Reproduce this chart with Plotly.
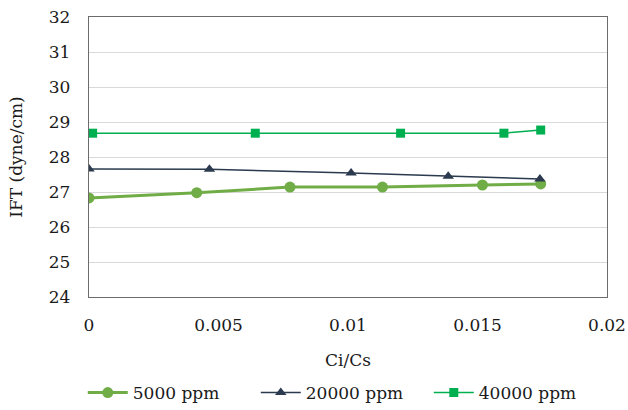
import plotly.graph_objects as go

# Interfacial tension vs. concentration ratio for three salinities
x_5000 = [0.0, 0.00416, 0.00776, 0.01133, 0.01519, 0.01744]
ift_5000 = [26.83, 26.98, 27.14, 27.14, 27.20, 27.23]

x_20000 = [0.0, 0.00465, 0.01012, 0.01387, 0.01741]
ift_20000 = [27.66, 27.65, 27.54, 27.45, 27.37]

x_40000 = [0.00014, 0.00642, 0.01203, 0.01602, 0.01744]
ift_40000 = [28.68, 28.68, 28.68, 28.68, 28.77]

x_ticks = [0, 0.005, 0.01, 0.015, 0.02]
x_ticklabels = ["0", "0.005", "0.01", "0.015", "0.02"]
y_ticks = [24, 25, 26, 27, 28, 29, 30, 31, 32]

FONT = "DejaVu Serif"

fig = go.Figure()
fig.add_trace(go.Scatter(
    x=x_5000, y=ift_5000, name="5000 ppm", mode="lines+markers",
    line=dict(color="#70AD47", width=3),
    marker=dict(symbol="circle", size=11, color="#70AD47"),
))
fig.add_trace(go.Scatter(
    x=x_20000, y=ift_20000, name="20000 ppm", mode="lines+markers",
    line=dict(color="#2B3A4E", width=1.5),
    marker=dict(symbol="triangle-up", size=10, color="#2B3A4E"),
))
fig.add_trace(go.Scatter(
    x=x_40000, y=ift_40000, name="40000 ppm", mode="lines+markers",
    line=dict(color="#00B050", width=1.5),
    marker=dict(symbol="square", size=9, color="#00B050"),
))

fig.update_layout(
    width=628, height=410,
    margin=dict(l=89, r=21, t=17, b=113, autoexpand=False),
    paper_bgcolor="white", plot_bgcolor="white",
    font=dict(family=FONT, size=17, color="#1a1a1a"),
    showlegend=True,
    legend=dict(
        orientation="h", x=-0.012, xanchor="left", y=-0.343, yanchor="middle",
        font=dict(family=FONT, size=17), itemwidth=40, tracegroupgap=0,
        entrywidth=118,
    ),
    xaxis=dict(
        range=[0, 0.02], tickvals=x_ticks, ticktext=x_ticklabels,
        showgrid=False, zeroline=False,
        showline=True, linecolor="#6b6b6b", linewidth=1.3, mirror=True,
        ticks="", ticklabelstandoff=12,
        title=dict(text="Ci/Cs", font=dict(family=FONT, size=17), standoff=20),
    ),
    yaxis=dict(
        range=[24, 32], tickvals=y_ticks,
        showgrid=True, gridcolor="#D9D9D9", gridwidth=1.3, zeroline=False,
        showline=True, linecolor="#6b6b6b", linewidth=1.3, mirror=True,
        ticks="", ticklabelstandoff=14,
        title=dict(text="IFT (dyne/cm)", font=dict(family=FONT, size=17), standoff=21),
    ),
)

fig.write_html("out.html")
